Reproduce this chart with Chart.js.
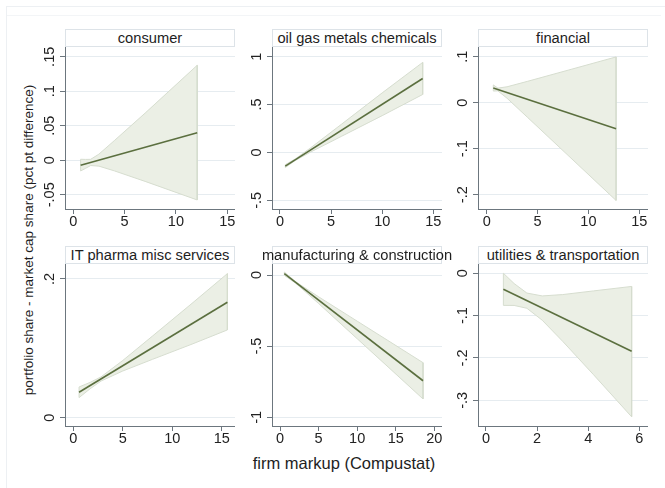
<!DOCTYPE html>
<html>
<head>
<meta charset="utf-8">
<script src="https://cdn.jsdelivr.net/npm/chart.js@4.4.1/dist/chart.umd.min.js"></script>
<style>
  html, body { margin: 0; padding: 0; background: #ffffff; }
  body { width: 665px; height: 488px; position: relative; overflow: hidden;
         font-family: "Liberation Sans", Arial, Helvetica, sans-serif; color: #1e1e1e; }
  .frame { position: absolute; left: 6px; top: 6px; width: 660px; height: 490px;
           border-left: 1px solid #edf0f3; border-top: 1px solid #edf0f3; }
  .inner { position: absolute; left: 7px; top: 15px; width: 654px; height: 0;
           border-top: 1px solid #f3f5f7; }
  .panel { position: absolute; }
  .panel canvas { display: block; }
  .strip { position: absolute; box-sizing: border-box; height: 18px;
           border: 1px solid #dde3e8; background: #ffffff; }
  .strip span { position: absolute; left: 50%; top: 50%; white-space: nowrap;
                font-size: 14.7px; line-height: 16px; transform: translate(-50%, -50%); }
  .ytitle { position: absolute; left: 28px; top: 240px; white-space: nowrap;
            font-size: 13.5px; transform: translate(-50%, -50%) rotate(-90deg); }
  .xtitle { position: absolute; left: 344px; top: 463px; white-space: nowrap;
            font-size: 16.5px; transform: translate(-50%, -50%); }
</style>
</head>
<body>
<div class="frame"></div>
<div class="inner"></div>
<div class="ytitle">portfolio share - market cap share (pct pt difference)</div>
<div class="xtitle">firm markup (Compustat)</div>
<script>
// ---- panel titles ----
const panelTitles = ['consumer', 'oil gas metals chemicals', 'financial',
                     'IT pharma misc services', 'manufacturing & construction', 'utilities & transportation'];

// ---- consumer ----
const consumerFitX  = [0.72, 12.07];
const consumerFitY  = [-0.0072, 0.040];
const consumerBandX = [0.72, 1.2, 1.7, 2.5, 4, 7, 12.07];
const consumerUpper = [0.0015, 0.0013, 0.0014, 0.0089, 0.0285, 0.0684, 0.1377];
const consumerLower = [-0.0155, -0.0117, -0.0076, -0.0085, -0.0153, -0.0306, -0.0575];
const consumerXTicks = [0, 5, 10, 15];
const consumerYTicks = [-0.05, 0, 0.05, 0.1, 0.15];
const consumerYLabels = ['-.05', '0', '.05', '.1', '.15'];

// ---- oil gas metals chemicals ----
const oilFitX  = [0.52, 13.96];
const oilFitY  = [-0.143, 0.772];
const oilBandX = [0.52, 1.5, 3, 6, 10, 13.96];
const oilUpper = [-0.128, -0.068, 0.048, 0.293, 0.622, 0.94];
const oilLower = [-0.158, -0.084, 0.004, 0.167, 0.384, 0.605];
const oilXTicks = [0, 5, 10, 15];
const oilYTicks = [-0.5, 0, 0.5, 1];
const oilYLabels = ['-.5', '0', '.5', '1'];

// ---- financial ----
const finFitX  = [0.65, 12.72];
const finFitY  = [0.032, -0.0565];
const finBandX = [0.65, 1.1, 2, 4, 8, 12.72];
const finUpper = [0.0387, 0.0317, 0.0346, 0.0464, 0.0707, 0.0995];
const finLower = [0.0253, 0.0257, 0.0097, -0.0316, -0.1145, -0.2125];
const finXTicks = [0, 5, 10, 15];
const finYTicks = [-0.2, -0.1, 0, 0.1];
const finYLabels = ['-.2', '-.1', '0', '.1'];

// ---- IT pharma misc services ----
const itFitX  = [0.58, 15.57];
const itFitY  = [0.0366, 0.1664];
const itBandX = [0.58, 1.7, 2.8, 5, 8, 12, 15.57];
const itUpper = [0.0443, 0.0509, 0.0588, 0.0825, 0.1177, 0.1649, 0.2077];
const itLower = [0.0289, 0.0417, 0.0528, 0.0673, 0.0841, 0.1061, 0.1265];
const itXTicks = [0, 5, 10, 15];
const itYTicks = [0, 0.2];
const itYLabels = ['0', '.2'];

// ---- manufacturing & construction ----
const mfgFitX  = [0.56, 18.54];
const mfgFitY  = [0.009, -0.743];
const mfgBandX = [0.56, 2, 5, 10, 14, 18.54];
const mfgUpper = [0.021, -0.0462, -0.1531, -0.3241, -0.4606, -0.616];
const mfgLower = [-0.003, -0.0562, -0.2003, -0.4475, -0.6456, -0.871];
const mfgXTicks = [0, 5, 10, 15, 20];
const mfgYTicks = [-1, -0.5, 0];
const mfgYLabels = ['-1', '-.5', '0'];

// ---- utilities & transportation ----
const utilFitX  = [0.68, 5.70];
const utilFitY  = [-0.0378, -0.184];
const utilBandX = [0.68, 1.1, 1.6, 2.2, 3, 4.2, 5.70];
const utilUpper = [0.0002, -0.0241, -0.0466, -0.0534, -0.0502, -0.0416, -0.031];
const utilLower = [-0.0758, -0.0759, -0.0826, -0.1108, -0.1606, -0.239, -0.339];
const utilXTicks = [0, 2, 4, 6];
const utilYTicks = [-0.3, -0.2, -0.1, 0];
const utilYLabels = ['-.3', '-.2', '-.1', '0'];

// ---- grid geometry (plot-region edges on the page) ----
const COL_LEFT  = [65, 272, 478];
const COL_RIGHT = [235, 442, 648];
const ROW_TOP   = [29, 246];   // top of the title strip
const ROW_AXIS  = [209, 426];  // x-axis line
const STRIP = 18, YAXIS_W = 40, XAXIS_H = 30;

const FONT = '"Liberation Sans", Arial, Helvetica, sans-serif';
const AXIS_COLOR = '#6c767e';
const GRID_COLOR = '#e6ecf0';
const FIT_COLOR  = '#5b6f3f';
const BAND_FILL  = '#ebefe5';
const BAND_EDGE  = '#d6ddcf';

const panels = [
  { fx: consumerFitX, fy: consumerFitY, bx: consumerBandX, up: consumerUpper, lo: consumerLower,
    xt: consumerXTicks, yt: consumerYTicks, yl: consumerYLabels, xr: [-0.8, 15.75], yr: [-0.0706, 0.1642] },
  { fx: oilFitX, fy: oilFitY, bx: oilBandX, up: oilUpper, lo: oilLower,
    xt: oilXTicks, yt: oilYTicks, yl: oilYLabels, xr: [-0.78, 15.85], yr: [-0.591, 1.101] },
  { fx: finFitX, fy: finFitY, bx: finBandX, up: finUpper, lo: finLower,
    xt: finXTicks, yt: finYTicks, yl: finYLabels, xr: [-0.855, 15.86], yr: [-0.2311, 0.1211] },
  { fx: itFitX, fy: itFitY, bx: itBandX, up: itUpper, lo: itLower,
    xt: itXTicks, yt: itYTicks, yl: itYLabels, xr: [-0.84, 16.34], yr: [-0.012, 0.2216] },
  { fx: mfgFitX, fy: mfgFitY, bx: mfgBandX, up: mfgUpper, lo: mfgLower,
    xt: mfgXTicks, yt: mfgYTicks, yl: mfgYLabels, xr: [-1.04, 21.0], yr: [-1.061, 0.0773] },
  { fx: utilFitX, fy: utilFitY, bx: utilBandX, up: utilUpper, lo: utilLower,
    xt: utilXTicks, yt: utilYTicks, yl: utilYLabels, xr: [-0.313, 6.34], yr: [-0.3607, 0.022] }
];

const pts = (xs, ys) => xs.map((x, i) => ({ x, y: ys[i] }));

// Tick labels: horizontal on the x axis, rotated on the y axis
const tickLabels = {
  id: 'tickLabels',
  afterDraw(chart, args, opts) {
    const { ctx, chartArea: a } = chart;
    const xs = chart.scales.x, ys = chart.scales.y;
    ctx.save();
    ctx.font = '14.5px ' + FONT;
    ctx.fillStyle = '#222222';
    ctx.textAlign = 'center';
    ctx.textBaseline = 'top';
    xs.ticks.forEach((t) => {
      ctx.fillText(String(t.value), xs.getPixelForValue(t.value), a.bottom + 6);
    });
    ys.ticks.forEach((t, i) => {
      const py = ys.getPixelForValue(t.value);
      ctx.save();
      ctx.translate(a.left - 15, py);
      ctx.rotate(-Math.PI / 2);
      ctx.textAlign = 'center';
      ctx.textBaseline = 'middle';
      ctx.fillText(opts.labels[i], 0, 0);
      ctx.restore();
    });
    ctx.restore();
  }
};

panels.forEach((p, k) => {
  const col = k % 3, row = Math.floor(k / 3);
  const div = document.createElement('div');
  div.className = 'panel';
  const w = COL_RIGHT[col] - COL_LEFT[col] + YAXIS_W;
  const h = ROW_AXIS[row] - ROW_TOP[row] + XAXIS_H;
  div.style.left = (COL_LEFT[col] - YAXIS_W) + 'px';
  div.style.top = ROW_TOP[row] + 'px';
  const cv = document.createElement('canvas');
  cv.width = w; cv.height = h;
  cv.style.width = w + 'px'; cv.style.height = h + 'px';
  div.appendChild(cv);
  document.body.appendChild(div);

  // panel title strip
  const strip = document.createElement('div');
  strip.className = 'strip';
  strip.style.left = COL_LEFT[col] + 'px';
  strip.style.top = ROW_TOP[row] + 'px';
  strip.style.width = (COL_RIGHT[col] - COL_LEFT[col]) + 'px';
  const label = document.createElement('span');
  label.textContent = panelTitles[k];
  strip.appendChild(label);
  document.body.appendChild(strip);

  const outline = pts(p.bx, p.up)
    .concat(pts(p.bx.slice().reverse(), p.lo.slice().reverse()))
    .concat([{ x: p.bx[0], y: p.up[0] }]);

  new Chart(cv, {
    type: 'line',
    data: {
      datasets: [
        { data: pts(p.fx, p.fy), borderColor: FIT_COLOR, borderWidth: 1.6, pointRadius: 0, fill: false },
        { data: outline, borderColor: BAND_EDGE, borderWidth: 1, pointRadius: 0, fill: false },
        { data: pts(p.bx, p.up), borderColor: 'rgba(0,0,0,0)', borderWidth: 0, pointRadius: 0,
          backgroundColor: BAND_FILL, fill: '+1' },
        { data: pts(p.bx, p.lo), borderColor: 'rgba(0,0,0,0)', borderWidth: 0, pointRadius: 0, fill: false }
      ]
    },
    options: {
      responsive: false,
      animation: false,
      events: [],
      layout: { padding: { top: STRIP, left: 0, right: 0, bottom: 0 } },
      plugins: {
        legend: { display: false },
        tooltip: { enabled: false },
        tickLabels: { labels: p.yl }
      },
      scales: {
        x: {
          type: 'linear', min: p.xr[0], max: p.xr[1],
          afterBuildTicks: (s) => { s.ticks = p.xt.map((v) => ({ value: v })); },
          afterFit: (s) => { s.height = XAXIS_H; },
          ticks: { display: false },
          grid: { drawOnChartArea: false, drawTicks: true, tickLength: 5, tickColor: AXIS_COLOR, tickWidth: 1 },
          border: { display: true, color: AXIS_COLOR, width: 1 }
        },
        y: {
          type: 'linear', min: p.yr[0], max: p.yr[1],
          afterBuildTicks: (s) => { s.ticks = p.yt.map((v) => ({ value: v })); },
          afterFit: (s) => { s.width = YAXIS_W; },
          ticks: { display: false },
          grid: { color: GRID_COLOR, lineWidth: 1, drawTicks: true, tickLength: 5, tickColor: AXIS_COLOR, tickWidth: 1 },
          border: { display: true, color: AXIS_COLOR, width: 1 }
        }
      }
    },
    plugins: [tickLabels]
  });
});
</script>
</body>
</html>
